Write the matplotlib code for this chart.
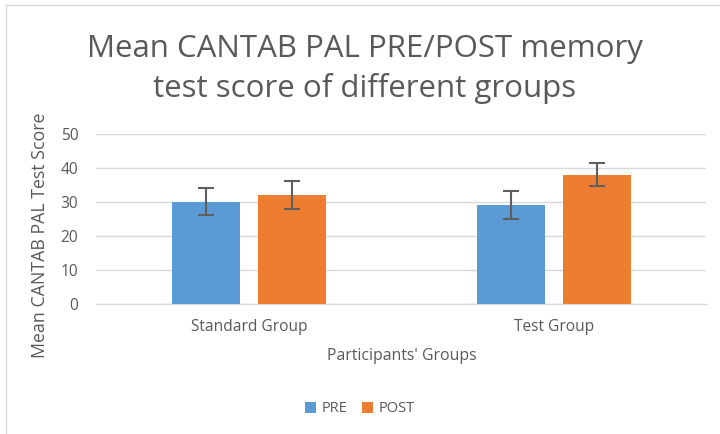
import matplotlib
matplotlib.use("Agg")
import matplotlib.pyplot as plt
import numpy as np
from matplotlib.lines import Line2D

categories = ["Standard Group", "Test Group"]
series_names = ["PRE", "POST"]
pre_values = [30, 29]
post_values = [32, 38]
pre_errors = [4, 4.2]
post_errors = [4, 3.4]
yticks = [0, 10, 20, 30, 40, 50]

plt.rcParams['font.family'] = ['Open Sans', 'DejaVu Sans']
grey = '#595959'
blue = '#5b9bd5'
orange = '#ed7d31'

fig = plt.figure(figsize=(7.2, 4.34), dpi=100)
ax = fig.add_axes([0.134, 0.300, 0.847, 0.392])

x = np.arange(len(categories))
w = 0.223
off = 0.142
ax.bar(x - off, pre_values, w, color=blue, yerr=pre_errors, label=series_names[0],
       error_kw=dict(ecolor='#5f5f5f', elinewidth=1.5, capsize=6, capthick=1.5), zorder=3)
ax.bar(x + off, post_values, w, color=orange, yerr=post_errors, label=series_names[1],
       error_kw=dict(ecolor='#5f5f5f', elinewidth=1.5, capsize=6, capthick=1.5), zorder=3)

ax.set_xlim(-0.5, 1.5)
ax.set_ylim(0, 50)
ax.set_yticks(yticks)
ax.set_xticks(x)
ax.set_xticklabels(categories)
ax.yaxis.grid(True, color='#d9d9d9', linewidth=1, zorder=0)
for s in ['top', 'right', 'left']:
    ax.spines[s].set_visible(False)
ax.spines['bottom'].set_color('#d9d9d9')
ax.spines['bottom'].set_linewidth(1)
ax.tick_params(axis='both', length=0, colors=grey, labelsize=11.2)
ax.tick_params(axis='y', pad=13)
ax.tick_params(axis='x', pad=11)

ax.set_ylabel("Mean CANTAB PAL Test Score", color=grey, fontsize=12.8, labelpad=8)
ax.yaxis.set_label_coords(-0.078, 0.404)
ax.set_xlabel("Participants' Groups", color=grey, fontsize=11.4, labelpad=9)

fig.text(0.507, 0.842, "Mean CANTAB PAL PRE/POST memory\ntest score of different groups",
         ha='center', va='center', fontsize=22.5, color=grey, linespacing=1.38)

leg = fig.legend(loc='center', bbox_to_anchor=(0.5, 0.058), ncol=2, frameon=False,
                 fontsize=10.5, handlelength=0.75, handleheight=0.75, columnspacing=1.0,
                 handletextpad=0.4)
for t in leg.get_texts():
    t.set_color(grey)

fig.add_artist(Line2D([5.5/720, 5.5/720], [0, 1 - 4.5/434], transform=fig.transFigure,
                      color='#d9d9d9', linewidth=1))
fig.add_artist(Line2D([5.5/720, 1], [1 - 4.5/434, 1 - 4.5/434], transform=fig.transFigure,
                      color='#d9d9d9', linewidth=1))

fig.savefig("out.png", dpi=100)
